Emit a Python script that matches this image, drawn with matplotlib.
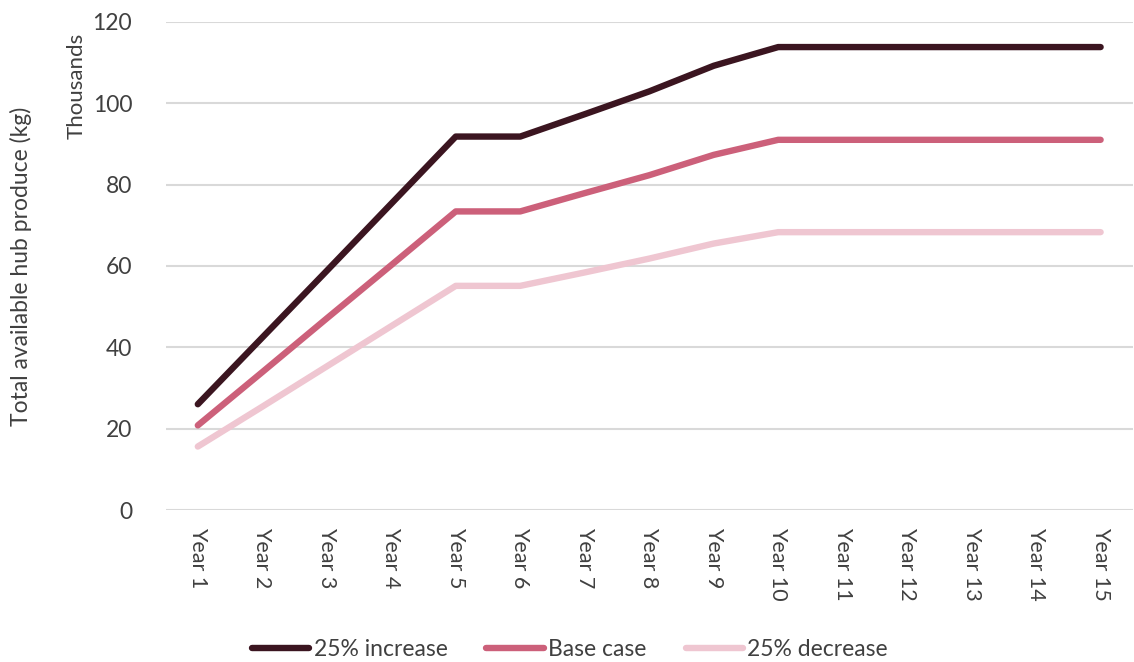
import numpy as np
import matplotlib.pyplot as plt

plt.rcParams['font.family'] = ['Lato', 'DejaVu Sans']

years = ['Year %d' % i for i in range(1, 16)]
increase = [26.0, 42.4, 58.8, 75.3, 91.8, 91.8, 97.3, 102.9, 109.2, 113.8,
            113.8, 113.8, 113.8, 113.8, 113.8]
base = [20.8, 33.9, 47.1, 60.2, 73.4, 73.4, 77.9, 82.3, 87.3, 91.0,
        91.0, 91.0, 91.0, 91.0, 91.0]
decrease = [15.6, 25.4, 35.3, 45.2, 55.1, 55.1, 58.4, 61.8, 65.5, 68.3,
            68.3, 68.3, 68.3, 68.3, 68.3]

fig = plt.figure(figsize=(11.34, 6.62), dpi=100)
ax = fig.add_axes([0.146, 0.2296, 0.853, 0.7374])

x = np.arange(1, 16)
ax.plot(x, increase, color='#3b1520', lw=4.6, label='25% increase', solid_capstyle='round')
ax.plot(x, base, color='#cc607a', lw=4.6, label='Base case', solid_capstyle='round')
ax.plot(x, decrease, color='#efc6d1', lw=4.6, label='25% decrease', solid_capstyle='round')

ax.set_xlim(0.5, 15.5)
ax.set_ylim(0, 120)
ax.set_yticks(range(0, 121, 20))
ax.set_xticks(x)
ax.set_xticklabels(years, rotation=-90, fontsize=15.5, color='#404040')
ax.tick_params(axis='y', labelsize=16.5, colors='#404040', length=0, pad=24)
ax.tick_params(axis='x', length=0, pad=12)
ax.grid(axis='y', color='#d9d9d9', lw=1.5)
ax.set_axisbelow(True)
for s in ax.spines.values():
    s.set_visible(False)

ax.set_ylabel('Total available hub produce (kg)', fontsize=16.5, color='#404040')
ax.yaxis.set_label_coords(-0.138, 0.5)
fig.text(0.059, 0.95, 'Thousands', rotation=90, ha='left', va='top', fontsize=16, color='#404040')

ax.legend(loc='center', bbox_to_anchor=(0.418, -0.285), ncol=3, frameon=False,
          fontsize=16.5, handlelength=2.5, handletextpad=0.2, columnspacing=1.7,
          labelcolor='#404040')

fig.savefig('out.png', dpi=100)
